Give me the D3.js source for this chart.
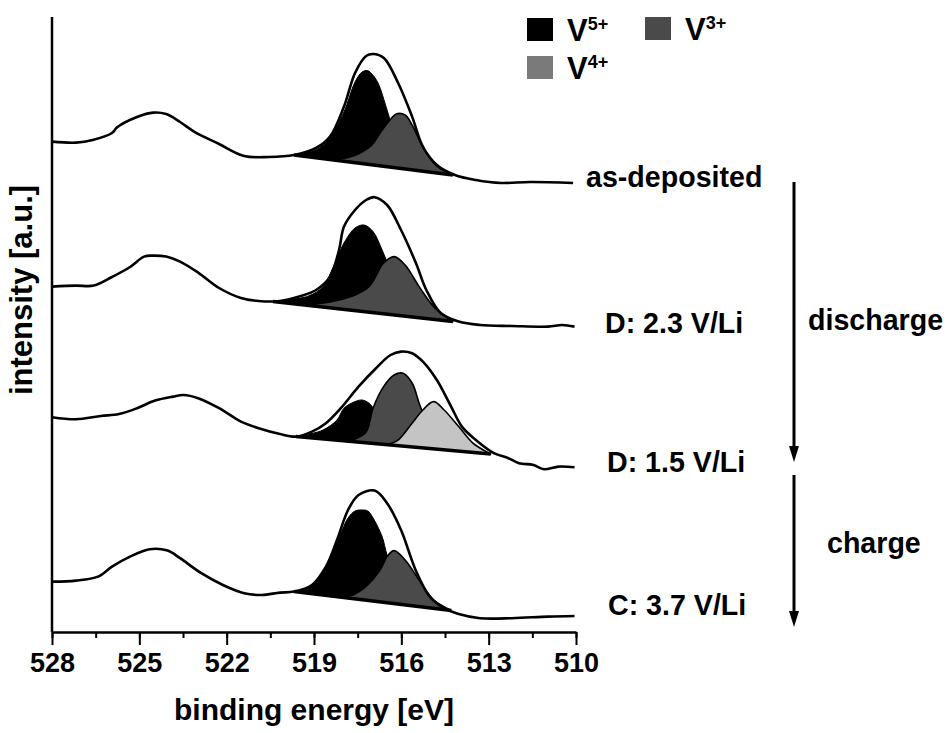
<!DOCTYPE html>
<html><head><meta charset="utf-8">
<script src="https://cdn.jsdelivr.net/npm/d3@7"></script>
<style>body{margin:0;background:#fff}svg{display:block}text{font-family:"Liberation Sans",Arial,sans-serif;font-weight:bold;fill:#000}</style>
</head><body><svg id="c" width="947" height="733"></svg>
<script>
// ---- data: [binding energy (eV), intensity (a.u., stacked)] ----
const asDepData = [[528.00,24.52],[527.18,24.47],[526.60,24.60],[525.94,24.95],[525.75,25.25],[525.08,25.75],[524.53,25.97],[524.08,25.90],[523.60,25.50],[523.12,25.02],[522.26,24.40],[521.40,23.80],[520.55,23.75],[519.69,23.85],[518.93,24.20],[518.45,24.77],[517.97,26.27],[517.59,27.95],[517.21,28.80],[516.97,28.90],[516.60,28.70],[516.11,27.45],[515.63,25.77],[515.26,24.27],[514.78,23.35],[514.16,22.85],[513.44,22.60],[512.58,22.45],[511.58,22.50],[510.10,22.45]];
const asDepBaseline = [[519.69,23.85],[514.23,22.85]];
const asDepV5 = [[519.69,23.85],[518.93,24.10],[518.45,24.70],[517.97,26.00],[517.59,27.50],[517.35,28.00],[517.16,28.07],[517.01,27.90],[516.80,27.45],[516.49,26.10],[516.22,24.85],[515.87,23.85],[515.26,23.15],[515.02,23.00]];
const asDepV3 = [[518.35,23.61],[517.76,23.75],[517.35,24.00],[517.01,24.35],[516.73,24.95],[516.39,25.60],[516.18,25.90],[515.87,25.85],[515.63,25.35],[515.26,24.25],[514.78,23.30],[514.23,22.85]];

const d23Data = [[528.00,17.27],[527.18,17.32],[526.56,17.32],[525.94,17.75],[525.32,18.25],[524.84,18.77],[524.53,18.82],[524.08,18.77],[523.60,18.52],[522.98,17.97],[522.26,17.20],[521.51,16.70],[520.90,16.55],[520.17,16.55],[519.45,16.80],[518.93,17.10],[518.45,17.77],[518.14,19.10],[517.97,20.27],[517.59,21.10],[517.21,21.60],[516.92,21.74],[516.49,21.35],[516.01,20.10],[515.50,18.45],[515.14,17.10],[514.65,15.95],[514.03,15.52],[513.30,15.35],[512.20,15.30],[510.96,15.27],[510.48,15.35],[510.05,15.27]];
const d23Baseline = [[520.41,16.52],[514.23,15.52]];
const d23V5 = [[520.41,16.52],[519.19,16.80],[518.69,17.27],[518.33,18.27],[517.97,19.45],[517.59,20.20],[517.28,20.35],[516.97,20.02],[516.66,19.10],[516.49,18.50],[516.22,17.60],[515.87,16.85],[515.36,16.35],[514.95,15.75],[514.67,15.59]];
const d23V3 = [[519.31,16.34],[518.45,16.50],[517.73,16.77],[517.11,17.27],[516.61,18.45],[516.25,18.77],[515.87,18.35],[515.39,17.27],[514.89,16.27],[514.40,15.70],[514.23,15.52]];

const d15Data = [[528.00,10.74],[527.18,10.64],[526.32,10.80],[525.70,10.90],[525.08,11.19],[524.46,11.57],[523.84,11.77],[523.48,11.85],[522.98,11.69],[522.26,11.19],[521.51,10.52],[520.90,10.19],[520.17,9.90],[519.62,9.77],[519.07,10.02],[518.59,10.44],[518.08,11.19],[517.47,12.27],[516.87,13.19],[516.37,13.85],[516.01,14.02],[515.63,13.94],[515.26,13.52],[514.78,12.60],[514.29,11.27],[513.92,10.27],[513.44,9.60],[512.82,8.94],[512.32,8.69],[511.96,8.44],[511.46,8.35],[511.10,8.14],[510.60,8.27],[510.05,8.24]];
const d15Baseline = [[519.62,9.77],[512.93,8.90]];
const d15V5 = [[519.62,9.77],[519.07,9.93],[518.69,10.10],[518.21,10.60],[517.97,11.19],[517.59,11.52],[517.35,11.60],[517.11,11.44],[516.92,11.10],[516.66,10.35],[516.32,9.70],[516.05,9.31]];
const d15V3 = [[517.97,9.55],[517.59,9.65],[517.21,10.00],[516.97,11.20],[516.61,12.27],[516.25,12.85],[515.94,12.94],[515.63,12.45],[515.39,11.45],[515.26,10.95],[514.95,10.00],[514.67,9.35],[514.40,9.09]];
const d15V4 = [[516.49,9.36],[516.11,9.60],[515.63,10.44],[515.26,11.10],[514.89,11.52],[514.53,11.10],[514.03,10.27],[513.54,9.44],[513.06,9.00],[512.93,8.90]];

const c37Data = [[528.00,2.52],[527.18,2.57],[526.42,2.77],[525.94,3.27],[525.32,3.77],[524.65,4.14],[524.03,4.07],[523.60,3.69],[522.87,2.94],[522.13,2.35],[521.40,1.94],[520.79,1.85],[520.17,1.97],[519.69,2.02],[519.07,2.35],[518.59,3.27],[518.21,4.60],[517.83,6.10],[517.47,6.85],[516.92,7.07],[516.49,6.44],[516.01,5.10],[515.51,3.10],[515.02,1.77],[514.53,1.19],[514.03,0.90],[513.30,0.69],[512.20,0.69],[510.96,0.77],[510.05,0.80]];
const c37Baseline = [[519.69,2.02],[514.28,1.07]];
const c37V5 = [[519.69,2.02],[519.07,2.33],[518.59,3.20],[518.21,4.45],[517.83,5.70],[517.59,6.05],[517.35,6.10],[517.15,6.05],[516.97,5.70],[516.66,4.77],[516.49,3.85],[516.22,2.85],[515.87,2.10],[515.53,1.70],[515.19,1.40],[514.95,1.18]];
const c37V3 = [[517.97,1.72],[517.59,1.90],[517.22,2.27],[516.73,3.10],[516.49,3.77],[516.25,4.07],[515.87,3.60],[515.39,2.60],[514.89,1.60],[514.53,1.27],[514.28,1.07]];

const xTickValues = [528,526.5,525,523.5,522,520.5,519,517.5,516,514.5,513,511.5,510];
const xTickLabels = [528,525,522,519,516,513,510];
const sampleLabels = ["as-deposited","D: 2.3 V/Li","D: 1.5 V/Li","C: 3.7 V/Li"];
const legendItems = [{sup:"5+",color:"#000000"},{sup:"3+",color:"#4a4a4a"},{sup:"4+",color:"#7a7a7a"}];
const colV5 = "#000000", colV3 = "#4a4a4a", colV4 = "#c4c4c4";

// ---- drawing ----
const svg = d3.select("#c");
const x = d3.scaleLinear().domain([528,510]).range([52,576]);
const y = d3.scaleLinear().domain([0,31]).range([632,12]);

const spectra = [
  {data:asDepData, base:asDepBaseline, comps:[[asDepV5,colV5],[asDepV3,colV3]]},
  {data:d23Data, base:d23Baseline, comps:[[d23V5,colV5],[d23V3,colV3]]},
  {data:d15Data, base:d15Baseline, comps:[[d15V5,colV5],[d15V3,colV3],[d15V4,colV4]]},
  {data:c37Data, base:c37Baseline, comps:[[c37V5,colV5],[c37V3,colV3]]}
];
const lineSmooth = d3.line().x(d=>x(d[0])).y(d=>y(d[1])).curve(d3.curveCatmullRom.alpha(0.5));
const lineLin = d3.line().x(d=>x(d[0])).y(d=>y(d[1]));

spectra.forEach(s=>{
  s.comps.forEach(([pts,col])=>{
    svg.append("path").attr("d", lineSmooth(pts)+"Z")
      .attr("fill",col).attr("stroke","#000").attr("stroke-width",col===colV5?1:1.6).attr("stroke-linejoin","round");
  });
  svg.append("path").attr("d", lineLin(s.base)).attr("stroke","#000").attr("stroke-width",3.5).attr("fill","none");
  svg.append("path").attr("d", lineSmooth(s.data)).attr("stroke","#000").attr("stroke-width",2.6).attr("fill","none").attr("stroke-linejoin","round");
});

// axes
const yAxis = d3.axisLeft(y).tickValues([]).tickSizeOuter(0);
const yg = svg.append("g").attr("transform",`translate(${x(528)},0)`).call(yAxis);
yg.select(".domain").attr("d",`M0,${y(0)}V${y(30.75)}`).attr("stroke-width",2.5);

const xMinor = d3.axisBottom(x).tickValues(xTickValues).tickSize(6).tickFormat("").tickSizeOuter(0);
const gMinor = svg.append("g").attr("transform",`translate(0,${y(0)})`).call(xMinor);
gMinor.select(".domain").attr("stroke-width",2.5);
gMinor.selectAll(".tick line").attr("stroke-width",2);
const xMajor = d3.axisBottom(x).tickValues(xTickLabels).tickSize(13).tickPadding(8).tickSizeOuter(0).tickFormat(d3.format("d"));
const gMajor = svg.append("g").attr("transform",`translate(0,${y(0)})`).call(xMajor);
gMajor.select(".domain").remove();
gMajor.selectAll(".tick line").attr("stroke-width",2);
gMajor.selectAll(".tick text").attr("font-size",27).attr("font-family",'"Liberation Sans",Arial,sans-serif').attr("font-weight","bold").attr("fill","#000");

svg.append("text").attr("x",314).attr("y",720).attr("text-anchor","middle").attr("font-size",30).text("binding energy [eV]");
svg.append("text").attr("transform","translate(32,290) rotate(-90)").attr("text-anchor","middle").attr("font-size",31).text("intensity [a.u.]");

// sample labels
const labelPos = [[586,187],[605,333],[607,472],[608,615]];
sampleLabels.forEach((t,i)=>{
  svg.append("text").attr("x",labelPos[i][0]).attr("y",labelPos[i][1]).attr("font-size",28.6).text(t);
});
svg.append("text").attr("x",808).attr("y",330).attr("font-size",28.6).text("discharge");
svg.append("text").attr("x",827).attr("y",553).attr("font-size",28.6).text("charge");
function arrow(x0,y0,y1){
  svg.append("line").attr("x1",x0).attr("x2",x0).attr("y1",y0).attr("y2",y1-12).attr("stroke","#000").attr("stroke-width",3);
  svg.append("path").attr("d",`M${x0-5},${y1-16}L${x0+5},${y1-16}L${x0},${y1}Z`).attr("fill","#000");
}
arrow(794,182,462);
arrow(794,475,627);

// legend
const legPos = [[527,18],[645,17],[527,56]];
legendItems.forEach((l,i)=>{
  const [lx,ly]=legPos[i];
  svg.append("rect").attr("x",lx).attr("y",ly).attr("width",26).attr("height",23).attr("fill",l.color);
  const t = svg.append("text").attr("x",lx+40).attr("y",ly+23).attr("font-size",31);
  t.append("tspan").text("V");
  t.append("tspan").attr("font-size",18).attr("dy",-11).text(l.sup);
});
</script></body></html>
